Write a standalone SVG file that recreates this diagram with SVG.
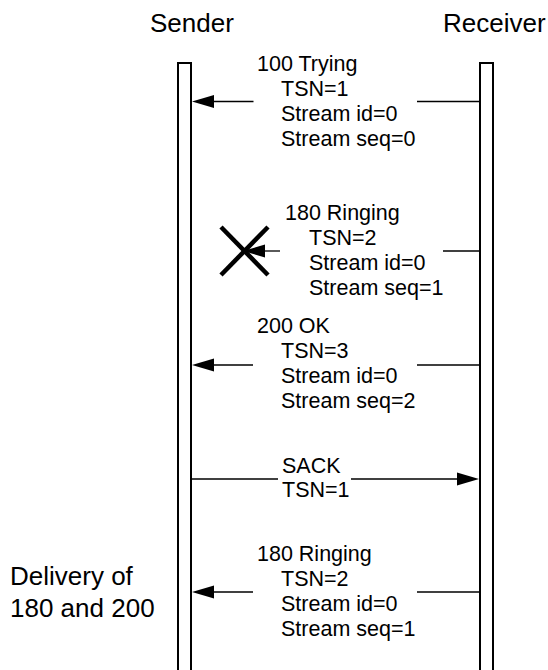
<svg xmlns="http://www.w3.org/2000/svg" width="548" height="670" viewBox="0 0 548 670">
<style>
text{font-family:"Liberation Sans",Arial,sans-serif;fill:#000}
.h{font-size:26px}
.m{font-size:21.5px}
.life{fill:#fff;stroke:#000;stroke-width:2}
.ln{stroke:#000;stroke-width:1.3;fill:none}
.ah{fill:#000}
</style>
<rect width="548" height="670" fill="#fff"/>
<g id="sender">
<text class="h" x="150" y="32">Sender</text>
<rect class="life" x="178" y="63" width="13" height="620"/>
</g>
<g id="receiver">
<text class="h" x="443" y="32">Receiver</text>
<rect class="life" x="480" y="63" width="13" height="620"/>
</g>
<g id="connectors">
<g id="msg1">
<line class="ln" x1="479" y1="101.5" x2="417" y2="101.5"/>
<line class="ln" x1="253.5" y1="101.5" x2="205" y2="101.5"/>
<polygon class="ah" points="192,101.5 214,95 214,108"/>
</g>
<g id="msg2">
<line class="ln" x1="479" y1="251" x2="443" y2="251"/>
<line class="ln" x1="280" y1="251" x2="258" y2="251"/>
<polygon class="ah" points="243,251 265,244.5 265,257.5"/>
<line stroke="#000" stroke-width="4.5" x1="221" y1="227" x2="268" y2="275"/>
<line stroke="#000" stroke-width="4.5" x1="268" y1="227" x2="221" y2="275"/>
</g>
<g id="msg3">
<line class="ln" x1="479" y1="365" x2="417" y2="365"/>
<line class="ln" x1="253" y1="365" x2="205" y2="365"/>
<polygon class="ah" points="192,365 214,358.5 214,371.5"/>
</g>
<g id="sack">
<line class="ln" x1="192" y1="479" x2="278" y2="479"/>
<line class="ln" x1="351" y1="479" x2="465" y2="479"/>
<polygon class="ah" points="479,479 457,472.5 457,485.5"/>
</g>
<g id="msg5">
<line class="ln" x1="479" y1="592" x2="417" y2="592"/>
<line class="ln" x1="253" y1="592" x2="205" y2="592"/>
<polygon class="ah" points="192,592 214,585.5 214,598.5"/>
</g>
</g>
<g id="labels">
<g id="label1">
<text class="m" x="257" y="71">100 Trying</text>
<text class="m" x="281" y="96">TSN=1</text>
<text class="m" x="281" y="121">Stream id=0</text>
<text class="m" x="281" y="146">Stream seq=0</text>
</g>
<g id="label2">
<text class="m" x="285" y="220">180 Ringing</text>
<text class="m" x="309" y="245">TSN=2</text>
<text class="m" x="309" y="270">Stream id=0</text>
<text class="m" x="309" y="295">Stream seq=1</text>
</g>
<g id="label3">
<text class="m" x="257" y="333">200 OK</text>
<text class="m" x="281" y="358">TSN=3</text>
<text class="m" x="281" y="383">Stream id=0</text>
<text class="m" x="281" y="408">Stream seq=2</text>
</g>
<g id="label4">
<text class="m" x="282" y="473">SACK</text>
<text class="m" x="282" y="497">TSN=1</text>
</g>
<g id="label5">
<text class="m" x="257" y="561">180 Ringing</text>
<text class="m" x="281" y="586">TSN=2</text>
<text class="m" x="281" y="611">Stream id=0</text>
<text class="m" x="281" y="636">Stream seq=1</text>
</g>
</g>
<g id="note">
<text class="h" x="10" y="585">Delivery of</text>
<text class="h" x="10" y="617">180 and 200</text>
</g>
</svg>
